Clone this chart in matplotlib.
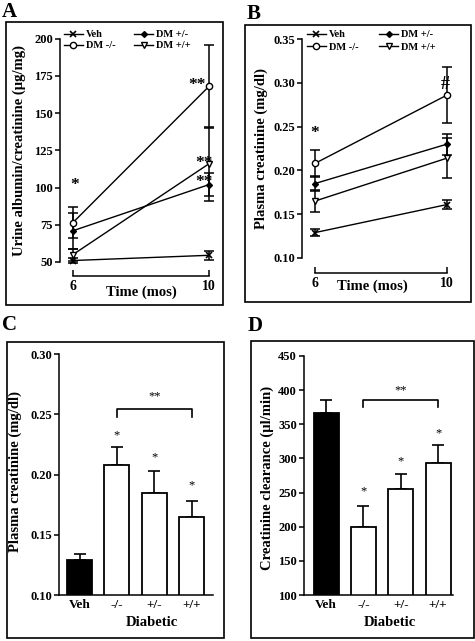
import matplotlib
matplotlib.use("Agg")
import matplotlib.pyplot as plt
from matplotlib.patches import Rectangle
import numpy as np

plt.rcParams['font.family'] = ['Liberation Serif', 'DejaVu Serif']
plt.rcParams['font.weight'] = 'bold'
plt.rcParams['axes.linewidth'] = 1.1

W, H = 475, 641

# ---------------- data ----------------
months = [6, 10]
groups = ["Veh", "DM -/-", "DM +/-", "DM +/+"]

# Panel A: urine albumin/creatinine (ug/mg)
alb_veh = [51, 54.5]
alb_ko = [76.5, 168]
alb_het = [71, 102]
alb_wt = [55, 116]
alb_veh_err = [1.5, 3]
alb_ko_err = [10.5, 28]
alb_het_err = [12, 8]
alb_wt_err = [4, 25]

# Panel B: plasma creatinine (mg/dl)
pc_veh = [0.129, 0.161]
pc_ko = [0.208, 0.286]
pc_het = [0.185, 0.230]
pc_wt = [0.165, 0.214]
pc_veh_err = [0.004, 0.005]
pc_ko_err = [0.015, 0.032]
pc_het_err = [0.009, 0.012]
pc_wt_err = [0.013, 0.023]

# Panel C: plasma creatinine bars (mg/dl)
bar_labels = ["Veh", "-/-", "+/-", "+/+"]
c_vals = [0.129, 0.208, 0.185, 0.165]
c_errs = [0.005, 0.015, 0.018, 0.013]

# Panel D: creatinine clearance (ul/min)
d_vals = [366, 199, 255, 293]
d_errs = [20, 31, 22, 27]

fig = plt.figure(figsize=(W / 100, H / 100), dpi=100)


def px_axes(l, t, r, b):
    return fig.add_axes([l / W, 1 - b / H, (r - l) / W, (b - t) / H])


def fx(x):
    return x / W


def fy(y):
    return 1 - y / H


# panel frames
for (l, t, r, b) in [(6, 22, 223, 305), (245, 25, 471, 302),
                     (7, 342, 224, 638), (251, 341, 474, 638)]:
    fig.add_artist(Rectangle((fx(l), fy(b)), (r - l) / W, (b - t) / H,
                             transform=fig.transFigure, fill=False,
                             lw=1.2, ec='black'))

# panel letters
for (x, y, s) in [(2, 12, "A"), (247, 14, "B"), (2, 325, "C"), (248, 326, "D")]:
    fig.text(fx(x), fy(y), s, fontsize=15, fontweight='bold', va='center', ha='left')

tickfont = dict(fontsize=9, fontweight='bold')
labfs = 10.5
markers = {"Veh": dict(marker='x', ms=4.5, mfc='black', mew=1.2),
           "DM -/-": dict(marker='o', ms=4.5, mfc='white', mew=1.0),
           "DM +/-": dict(marker='D', ms=3.0, mfc='black', mew=1.0),
           "DM +/+": dict(marker='v', ms=5, mfc='white', mew=1.0)}


def line_panel(ax, series, errs, xlim, ylim, yticks, yfmt, offset):
    handles = []
    for g, vals, e in zip(groups, series, errs):
        ax.errorbar(months, vals, yerr=e, fmt='none', ecolor='black',
                    elinewidth=1.1, capsize=3.5, capthick=1.1, clip_on=False, zorder=2)
        h, = ax.plot(months, vals, color='black', lw=1.0, mec='black',
                     clip_on=False, zorder=3, label=g, **markers[g])
        handles.append(h)
    ax.set_xlim(*xlim)
    ax.set_ylim(*ylim)
    ax.set_yticks(yticks)
    ax.set_yticklabels([yfmt.format(v) for v in yticks], **tickfont)
    ax.set_xticks(months)
    ax.set_xticklabels([str(m) for m in months], **tickfont)
    for s in ['top', 'right']:
        ax.spines[s].set_visible(False)
    ax.spines['bottom'].set_position(('outward', offset))
    ax.spines['bottom'].set_bounds(months[0], months[1])
    ax.tick_params(axis='y', direction='out', length=3.5, width=1.1, pad=1.5)
    ax.tick_params(axis='x', direction='in', length=4, width=1.1, pad=3)
    ax.patch.set_alpha(0)
    return handles


legprops = dict(size=7.5, weight='bold')

# ---------------- Panel A ----------------
axA = px_axes(60, 38.7, 218, 262)
hA = line_panel(axA, [alb_veh, alb_ko, alb_het, alb_wt],
                [alb_veh_err, alb_ko_err, alb_het_err, alb_wt_err],
                (5.618, 10.265), (50, 200), [50, 75, 100, 125, 150, 175, 200],
                "{:d}", 10)
axA.legend(handles=hA, ncol=2, frameon=False, loc='upper left',
           bbox_to_anchor=(fx(64), fy(30)), bbox_transform=fig.transFigure,
           prop=legprops, handlelength=1.8, handletextpad=0.3,
           columnspacing=1.8, labelspacing=0.15, borderpad=0, borderaxespad=0)
axA.text(6.05, 102, "*", fontsize=12.5, ha='center', va='center')
axA.text(9.9, 169, "**", fontsize=12.5, ha='right', va='center')
axA.text(10.1, 116.5, "**", fontsize=12.5, ha='right', va='center')
axA.text(10.1, 104, "**", fontsize=12.5, ha='right', va='center')
fig.text(fx(19), fy(150), "Urine albumin/creatinine (\u00b5g/mg)", rotation=90,
         fontsize=labfs, fontweight='bold', ha='center', va='center')
fig.text(fx(141), fy(292), "Time (mos)", fontsize=labfs, fontweight='bold',
         ha='center', va='center')

# ---------------- Panel B ----------------
axB = px_axes(302, 39, 462, 258)
hB = line_panel(axB, [pc_veh, pc_ko, pc_het, pc_wt],
                [pc_veh_err, pc_ko_err, pc_het_err, pc_wt_err],
                (5.606, 10.455), (0.10, 0.35), [0.10, 0.15, 0.20, 0.25, 0.30, 0.35],
                "{:.2f}", 11)
axB.legend(handles=hB, ncol=2, frameon=False, loc='upper left',
           bbox_to_anchor=(fx(307), fy(30)), bbox_transform=fig.transFigure,
           prop=legprops, handlelength=1.8, handletextpad=0.3,
           columnspacing=2.0, labelspacing=0.3, borderpad=0, borderaxespad=0)
axB.text(6.0, 0.243, "*", fontsize=12.5, ha='center', va='center')
axB.text(9.95, 0.298, "#", fontsize=13, ha='center', va='center')
fig.text(fx(261), fy(149), "Plasma creatinine (mg/dl)", rotation=90,
         fontsize=labfs, fontweight='bold', ha='center', va='center')
fig.text(fx(372), fy(286), "Time (mos)", fontsize=labfs, fontweight='bold',
         ha='center', va='center')


# ---------------- bar panels ----------------
def bar_panel(ax, vals, errs, xlim, ylim, yticks, yfmt, star_y, br_y, br_tick, br_text_y):
    x = np.arange(len(vals))
    colors = ['black', 'white', 'white', 'white']
    ax.errorbar(x, vals, yerr=[np.zeros(len(errs)), errs], fmt='none',
                ecolor='black', elinewidth=1.2, capsize=4.5, capthick=1.2, zorder=1)
    ax.bar(x, vals, width=0.67, color=colors, edgecolor='black', linewidth=1.3, zorder=2)
    ax.set_xlim(*xlim)
    ax.set_ylim(*ylim)
    ax.set_yticks(yticks)
    ax.set_yticklabels([yfmt.format(v) for v in yticks], **tickfont)
    ax.set_xticks(x)
    ax.set_xticklabels(bar_labels, fontsize=9.5, fontweight='bold')
    for s in ['top', 'right']:
        ax.spines[s].set_visible(False)
    ax.tick_params(axis='y', direction='out', length=3.5, width=1.1, pad=1.5)
    ax.tick_params(axis='x', length=0, pad=3)
    for xi, sy in zip(x[1:], star_y):
        ax.text(xi, sy, "*", fontsize=9, fontweight='normal', ha='center', va='center')
    ax.plot([1, 1, 3, 3], [br_tick, br_y, br_y, br_tick], color='black', lw=1.2,
            clip_on=False)
    ax.text(2, br_text_y, "**", fontsize=9, fontweight='normal', ha='center', va='center')
    ax.patch.set_alpha(0)


axC = px_axes(59, 354.3, 213, 595)
bar_panel(axC, c_vals, c_errs, (-0.55, 3.576), (0.10, 0.30),
          [0.10, 0.15, 0.20, 0.25, 0.30], "{:.2f}",
          [0.233, 0.214, 0.191], 0.2545, 0.248, 0.265)
fig.text(fx(15), fy(472), "Plasma creatinine (mg/dl)", rotation=90,
         fontsize=labfs, fontweight='bold', ha='center', va='center')
fig.text(fx(152), fy(623), "Diabetic", fontsize=labfs, fontweight='bold',
         ha='center', va='center')

axD = px_axes(304, 356, 453, 595)
bar_panel(axD, d_vals, d_errs, (-0.59, 3.4), (100, 450),
          [100, 150, 200, 250, 300, 350, 400, 450], "{:d}",
          [252, 296, 337], 386, 375, 399)
fig.text(fx(267), fy(478), "Creatinine clearance (\u00b5l/min)", rotation=90,
         fontsize=labfs, fontweight='bold', ha='center', va='center')
fig.text(fx(390), fy(623), "Diabetic", fontsize=labfs, fontweight='bold',
         ha='center', va='center')

fig.savefig("out.png", dpi=100)
